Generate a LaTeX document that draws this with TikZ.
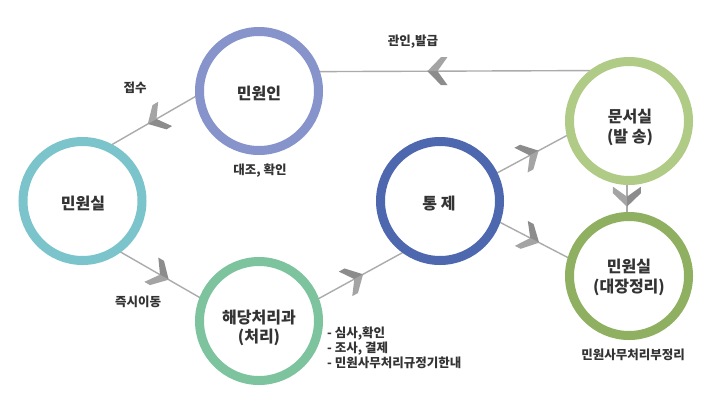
\documentclass[tikz,border=0pt]{standalone}
\usepackage{fontspec}
\setmainfont{Noto Sans CJK KR}
\usetikzlibrary{decorations.markings,backgrounds}
\definecolor{cMinin}{HTML}{8794CC}
\definecolor{cMinsil}{HTML}{7CC4CC}
\definecolor{cHaedang}{HTML}{7DC49E}
\definecolor{cTongje}{HTML}{4E68B0}
\definecolor{cMunseo}{HTML}{AFCB85}
\definecolor{cDaejang}{HTML}{8FB060}
\definecolor{lineGray}{HTML}{ABABAB}
\definecolor{chevA}{HTML}{8C8C8C}
\definecolor{chevB}{HTML}{A4A4A4}
\definecolor{textc}{HTML}{333333}
\newcommand{\mychev}{%
  \fill[chevA] (10pt,0pt)--(-3.5pt,14pt)--(-10pt,14pt)--(0pt,0pt)--cycle;
  \fill[chevB] (10pt,0pt)--(-3.5pt,-14pt)--(-10pt,-14pt)--(0pt,0pt)--cycle;}
\begin{document}
\begin{tikzpicture}[x=1pt,y=-1pt,
  ring/.style={circle,draw=#1,line width=9pt,fill=white,minimum size=119pt,inner sep=0pt,outer sep=0pt},
  conn/.style={draw=lineGray,line width=1.4pt,postaction={decorate},
    decoration={markings,mark=at position #1 with {\mychev}}},
  bigtxt/.style={font=\bfseries\fontsize{16}{19.5}\selectfont,text=textc,align=center,inner sep=0pt},
  smalltxt/.style={font=\bfseries\fontsize{12.5}{15}\selectfont,text=textc,align=center,inner sep=0pt},
  listtxt/.style={font=\bfseries\fontsize{12.5}{15}\selectfont,text=textc,align=left,inner sep=0pt,anchor=west}]
\begin{scope}[on background layer]
  \fill[white] (0,0) rectangle (722,410);
\end{scope}
\useasboundingbox (0,0) rectangle (722,410);
% circles
\node[ring=cMinin]   (minin)   at (259,91)  {};
\node[ring=cMinsil]  (minsil)  at (82.5,201) {};
\node[ring=cHaedang] (haedang) at (259,321) {};
\node[ring=cTongje]  (tongje)  at (440,201) {};
\node[ring=cMunseo]  (munseo)  at (629,121) {};
\node[ring=cDaejang] (daejang) at (629,276) {};
% circle texts
\node[bigtxt] (tminin)   at (259,93)   {민원인};
\node[bigtxt] (tminsil)  at (83,203)   {민원실};
\node[bigtxt] (thaedang) at (259,328)  {해당처리과\\(처리)};
\node[bigtxt] (ttongje)  at (439,204)  {통 제};
\node[bigtxt] (tmunseo)  at (630,127.5) {문서실\\(발 송)};
\node[bigtxt] (tdaejang) at (629,277.5) {민원실\\(대장정리)};
% labels
\node[smalltxt] (ljeopsu) at (135,88)  {접수};
\node[smalltxt] (ldaejo)  at (260,171) {대조, 확인};
\node[smalltxt] (lgwanin) at (413,42)  {관인,발급};
\node[smalltxt] (ljeuksi) at (138,302) {즉시이동};
\node[listtxt]  (llist)   at (327,348) {- 심사,확인\\- 조사, 결제\\- 민원사무처리규정기한내};
\node[smalltxt] (lbujeong) at (633,355) {민원사무처리부정리};
% connectors
\begin{scope}[on background layer]
  \draw[conn=0.47] (minin.183.6) -- (minsil.65);
  \draw[conn=0.5]  (minsil.-55) -- (haedang.159.4);
  \draw[conn=0.43] (haedang.20) -- (tongje.236.5);
  \draw[conn=0.47] (tongje.26.6) -- (munseo.192);
  \draw[conn=0.45] (tongje.-19.5) -- (daejang.164);
  \draw[conn=0.45] (munseo.268) -- (daejang.92);
  \draw[conn=0.567] (munseo.122.8) -- (minin.19.6);
\end{scope}
\end{tikzpicture}
\end{document}
